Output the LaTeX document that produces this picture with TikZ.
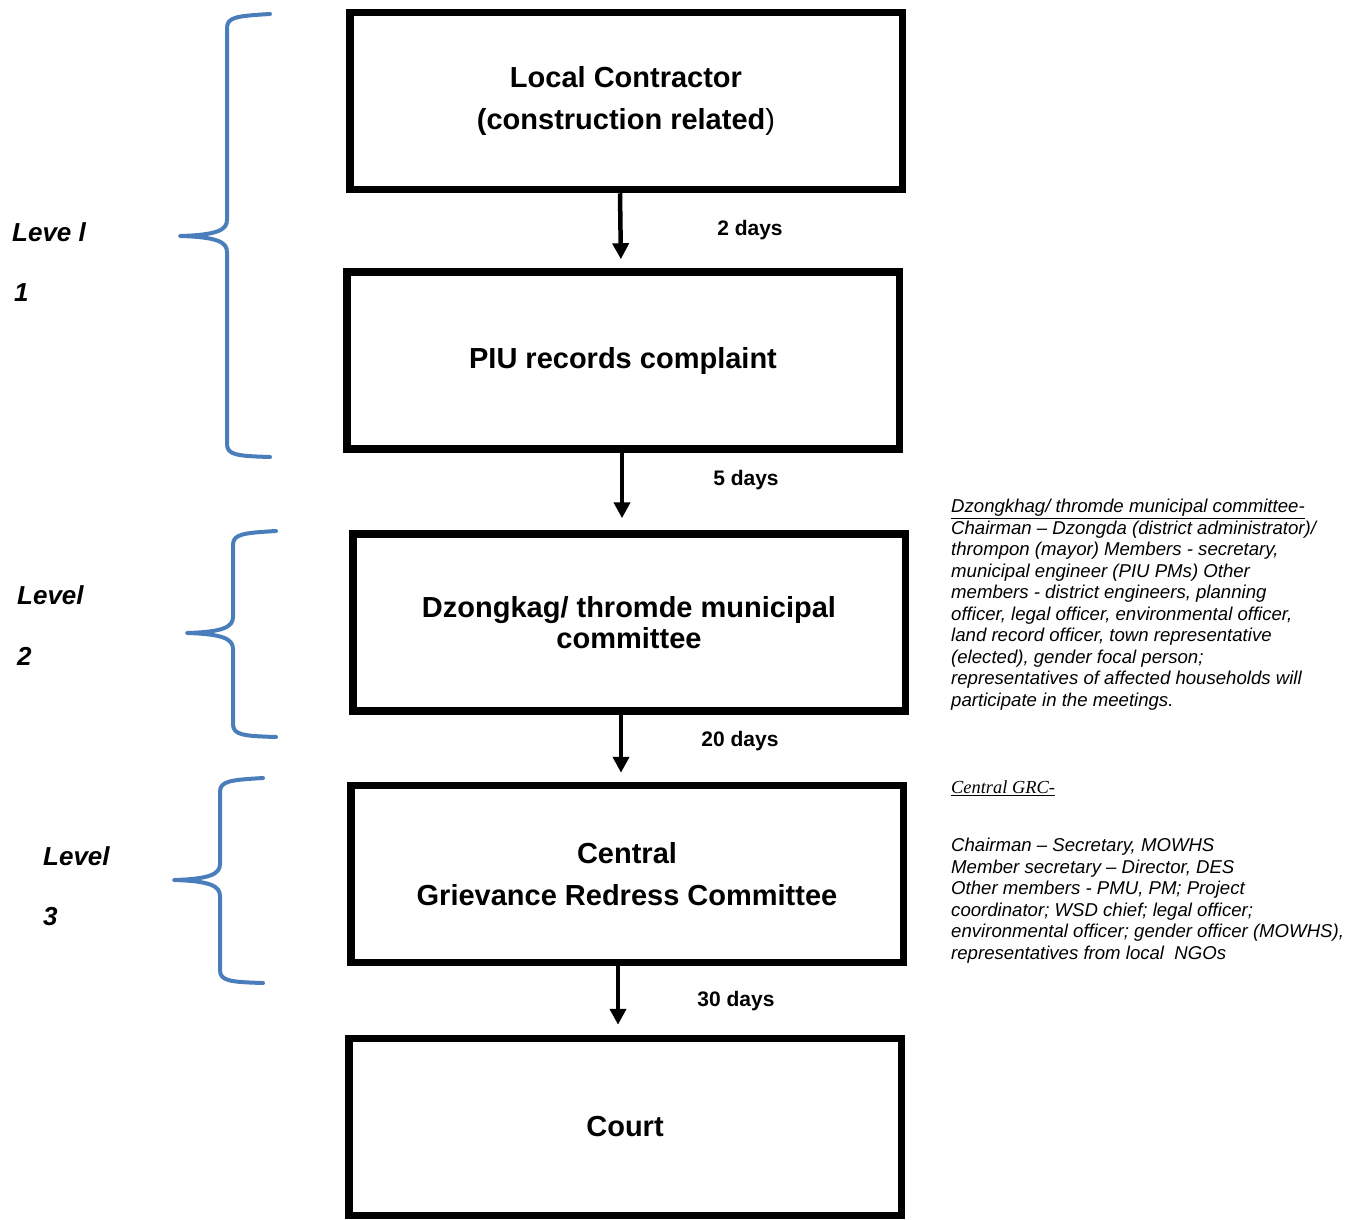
\documentclass[tikz,border=0pt]{standalone}
\usepackage{fontspec}
\setmainfont{Liberation Sans}
\newfontfamily\serifit{Liberation Serif}
\usetikzlibrary{arrows.meta}
\definecolor{braceblue}{HTML}{4A7EBB}
\begin{document}
\begin{tikzpicture}[x=1pt,y=-1pt,
 box/.style={draw, line width=7.5pt, minimum width=552.5pt, minimum height=177pt, align=center, inner sep=0pt, font=\fontsize{29}{42}\selectfont\bfseries},
 flow/.style={line width=4.5pt, -{Triangle[width=16pt,length=16pt]}},
 days/.style={inner sep=0pt, font=\fontsize{21}{25}\selectfont\bfseries},
 lvl/.style={anchor=west, inner sep=0pt, font=\fontsize{26}{30}\selectfont\bfseries\itshape},
 bracestyle/.style={draw=braceblue, line width=4pt, line cap=round, line join=round},
 note/.style={anchor=north west, inner sep=0pt, align=left, font=\fontsize{18.6}{21.5}\selectfont\itshape}]
\useasboundingbox (0,0) rectangle (1365,1220);

% boxes
\node[box] (b1) at (626,101) {Local Contractor\\(construction related{\mdseries)}};
\node[box] (b2) at (623,360.5) {PIU records complaint};
\node[box, font=\fontsize{29}{31}\selectfont\bfseries] (b3) at (629,622.5) {Dzongkag/ thromde municipal\\committee};
\node[box] (b4) at (627,874) {Central\\Grievance Redress Committee};
\node[box] (b5) at (625,1127) {Court};

% arrows
\draw[flow, shorten >=9pt] ([xshift=-6pt]b1.south) -- ([xshift=-2pt]b2.north);
\draw[flow, shorten >=12pt] ([xshift=-1pt]b2.south) -- ([xshift=-7pt]b3.north);
\draw[flow, shorten >=9pt] ([xshift=-8pt]b3.south) -- ([xshift=-6pt]b4.north);
\draw[flow, shorten >=10pt] ([xshift=-9pt]b4.south) -- ([xshift=-7pt]b5.north);

% day labels
\node[days] (d1) at (750,230) {2 days};
\node[days] (d2) at (746,480) {5 days};
\node[days] (d3) at (740,741) {20 days};
\node[days] (d4) at (736,1001) {30 days};

% level labels
\node[lvl] (l1a) at (12,232) {Leve l};
\node[lvl] (l1b) at (14,293) {1};
\node[lvl] (l2a) at (17,595) {Level};
\node[lvl] (l2b) at (17,656) {2};
\node[lvl] (l3a) at (43,856) {Level};
\node[lvl] (l3b) at (43,917) {3};

% braces
\draw[bracestyle] (270,14) .. controls (237,16) and (227,17) .. (227,28) -- (227,220)
  .. controls (227,230) and (217,235) .. (180,236)
  .. controls (217,237) and (227,242) .. (227,252) -- (227,444)
  .. controls (227,455) and (237,456) .. (270,457);
\draw[bracestyle] (276,531) .. controls (243,533) and (233,534) .. (233,545) -- (233,617)
  .. controls (233,627) and (223,632) .. (187,633)
  .. controls (223,634) and (233,639) .. (233,649) -- (233,724)
  .. controls (233,735) and (243,736) .. (276,737);
\draw[bracestyle] (263,778) .. controls (230,780) and (220,781) .. (220,792) -- (220,864)
  .. controls (220,874) and (210,879) .. (174,880)
  .. controls (210,881) and (220,886) .. (220,896) -- (220,970)
  .. controls (220,981) and (230,982) .. (263,983);

% notes
\node[note] (n1) at (951,499) {\underline{Dzongkhag/ thromde municipal committee-}\\
Chairman -- Dzongda (district administrator)/\\
thrompon (mayor) Members - secretary,\\
municipal engineer (PIU PMs) Other\\
members - district engineers, planning\\
officer, legal officer, environmental officer,\\
land record officer, town representative\\
(elected), gender focal person;\\
representatives of affected households will\\
participate in the meetings.};
\node[anchor=west, inner sep=0pt, font=\fontsize{18.4}{22}\selectfont\serifit\itshape] (n2) at (951,788) {\underline{Central GRC-}};
\node[note] (n3) at (951,838) {Chairman -- Secretary, MOWHS\\
Member secretary -- Director, DES\\
Other members - PMU, PM; Project\\
coordinator; WSD chief; legal officer;\\
environmental officer; gender officer (MOWHS),\\
representatives from local\ \ NGOs};
\end{tikzpicture}
\end{document}
